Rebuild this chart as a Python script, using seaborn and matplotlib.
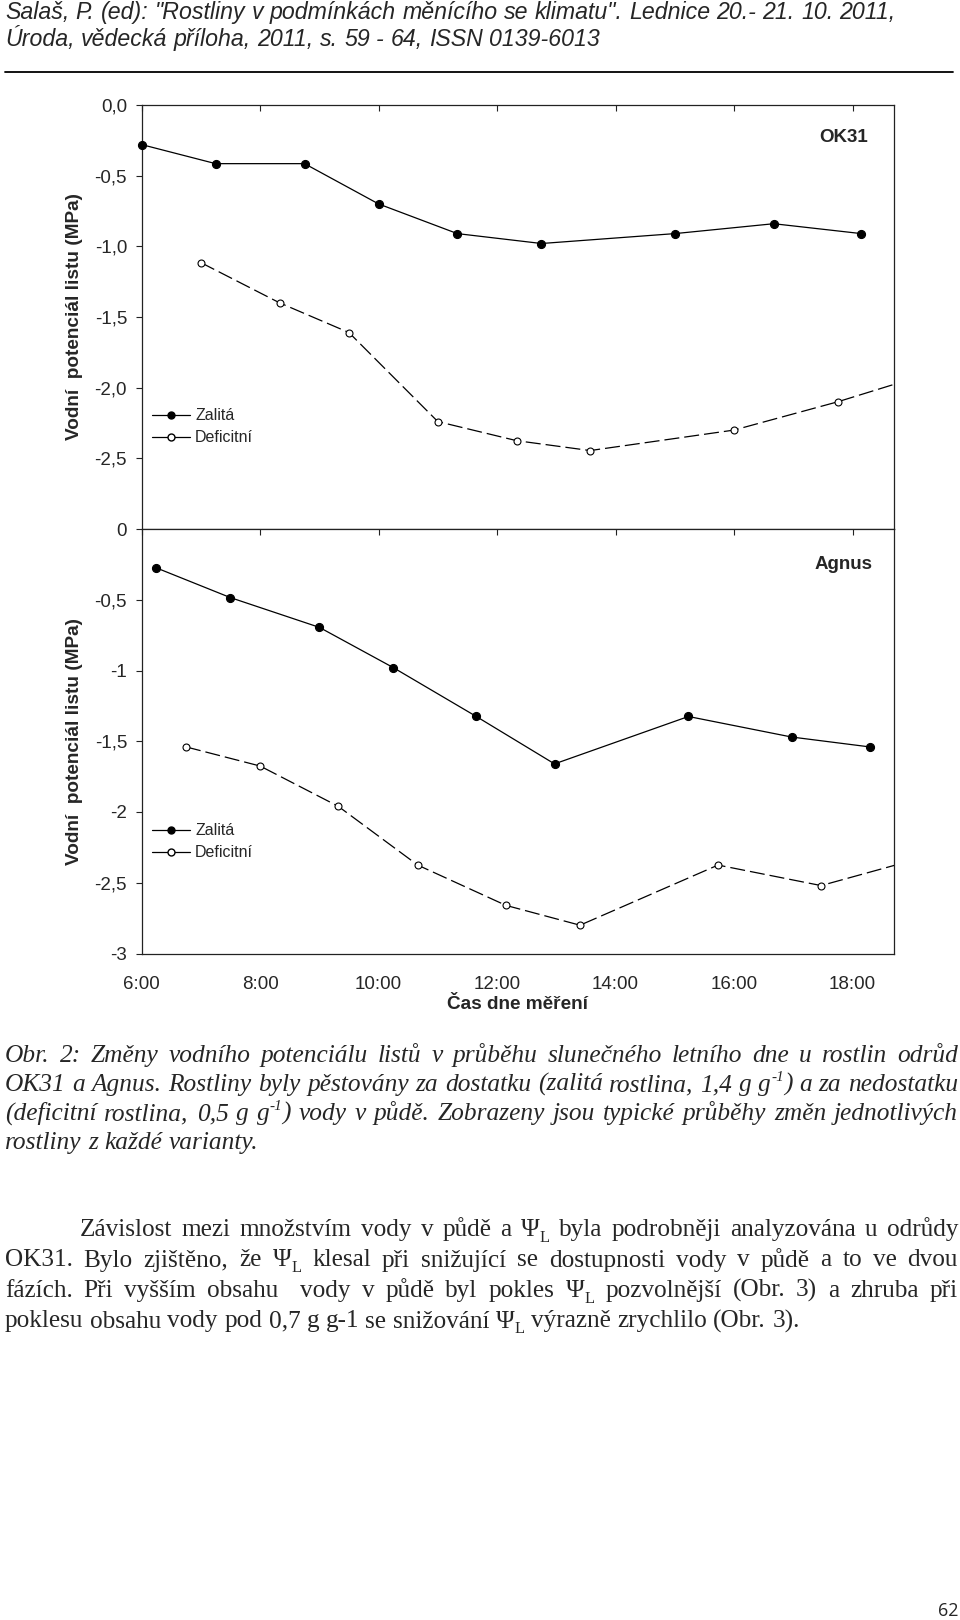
import re
import matplotlib
matplotlib.use('Agg')
import matplotlib.pyplot as plt
import seaborn as sns
from matplotlib.lines import Line2D

# --- data (hours of day, leaf water potential in MPa) ---
hours_ok31_zalita = [6.0, 7.25, 8.75, 10.0, 11.33, 12.75, 15.0, 16.67, 18.15]
psi_ok31_zalita = [-0.28, -0.415, -0.415, -0.70, -0.91, -0.98, -0.91, -0.84, -0.91]
hours_ok31_deficit = [7.0, 8.33, 9.5, 11.0, 12.33, 13.57, 16.0, 17.75, 19.1]
psi_ok31_deficit = [-1.115, -1.40, -1.61, -2.24, -2.375, -2.445, -2.30, -2.10, -1.925]

hours_agnus_zalita = [6.25, 7.5, 9.0, 10.25, 11.65, 12.97, 15.23, 16.97, 18.29]
psi_agnus_zalita = [-0.275, -0.485, -0.695, -0.98, -1.325, -1.66, -1.325, -1.47, -1.54]
hours_agnus_deficit = [6.75, 8.0, 9.32, 10.66, 12.15, 13.4, 15.73, 17.47, 19.2]
psi_agnus_deficit = [-1.54, -1.675, -1.96, -2.375, -2.66, -2.80, -2.375, -2.52, -2.32]

x_ticks = [6, 8, 10, 12, 14, 16, 18]
x_ticklabels = ['6:00', '8:00', '10:00', '12:00', '14:00', '16:00', '18:00']
y_ticks_top = [0, -0.5, -1.0, -1.5, -2.0, -2.5]
y_ticklabels_top = ['0,0', '-0,5', '-1,0', '-1,5', '-2,0', '-2,5']
y_ticks_bot = [0, -0.5, -1.0, -1.5, -2.0, -2.5, -3.0]
y_ticklabels_bot = ['0', '-0,5', '-1', '-1,5', '-2', '-2,5', '-3']
series_labels = ['Zalitá', 'Deficitní']
ylabel = 'Vodní  potenciál listu (MPa)'
xlabel = 'Čas dne měření'

header_lines = [
    'Salaš, P. (ed): "Rostliny v podmínkách měnícího se klimatu". Lednice 20.- 21. 10. 2011,',
    'Úroda, vědecká příloha, 2011, s. 59 - 64, ISSN 0139-6013',
]
caption_lines = [
    'Obr. 2: Změny vodního potenciálu listů v průběhu slunečného letního dne u rostlin odrůd',
    'OK31 a Agnus. Rostliny byly pěstovány za dostatku (zalitá rostlina, 1,4 g g^{-1}) a za nedostatku',
    '(deficitní rostlina, 0,5 g g^{-1}) vody v půdě. Zobrazeny jsou typické průběhy změn jednotlivých',
    'rostliny z každé varianty.',
]
body_lines = [
    'Závislost mezi množstvím vody v půdě a Ψ_{L} byla podrobněji analyzována u odrůdy',
    'OK31. Bylo zjištěno, že Ψ_{L} klesal při snižující se dostupnosti vody v půdě a to ve dvou',
    'fázích. Při vyšším obsahu  vody v půdě byl pokles Ψ_{L} pozvolnější (Obr. 3) a zhruba při',
    'poklesu obsahu vody pod 0,7 g g-1 se snižování Ψ_{L} výrazně zrychlilo (Obr. 3).',
]
page_number = '62'

sns.set_theme(style='ticks')
plt.rcParams['font.family'] = ['Liberation Sans', 'DejaVu Sans']

W, H = 960, 1620
fig = plt.figure(figsize=(W / 100, H / 100), dpi=100)
renderer = fig.canvas.get_renderer()


def fx(px):
    return px / W


def fy(py):
    return 1 - py / H


ax_top = fig.add_axes([fx(141.6), fy(529), fx(894) - fx(141.6), fy(105) - fy(529)])
ax_bot = fig.add_axes([fx(141.6), fy(953.5), fx(894) - fx(141.6), fy(529) - fy(953.5)])


def draw_panel(ax, hz, pz, hd, pdf, yt, ytl, name, name_y, leg_y, bottom):
    sns.lineplot(x=hz, y=pz, ax=ax, color='black', linewidth=0.9, marker='o',
                 markersize=5.8, markerfacecolor='black', markeredgecolor='black',
                 markeredgewidth=0.8, clip_on=False, zorder=3)
    sns.lineplot(x=hd, y=pdf, ax=ax, color='black', linewidth=0.9, linestyle=(0, (12, 4)),
                 marker='o', markersize=5, markerfacecolor='white', markeredgecolor='black',
                 markeredgewidth=0.8, zorder=3)
    ax.set_xlim(6, 18.7)
    ax.set_ylim(-3, 0)
    ax.set_xticks(x_ticks)
    ax.set_xticklabels(x_ticklabels if bottom else [''] * len(x_ticks))
    ax.set_yticks(yt)
    ax.set_yticklabels(ytl)
    ax.tick_params(axis='y', direction='out', length=4.5, width=0.8, pad=6,
                   labelsize=13.5, color='#222222')
    ax.tick_params(axis='x', bottom=False, top=True, direction='in', length=4.5,
                   width=0.8, pad=16, labelsize=13.5, labelbottom=bottom,
                   labeltop=False, color='#222222')
    for s in ax.spines.values():
        s.set_linewidth(0.9)
        s.set_color('#222222')
    ax.set_ylabel(ylabel, fontsize=13.7, fontweight='bold')
    ax.yaxis.label.set_va('center')
    ax.yaxis.set_label_coords(-0.0898, 0.5)
    if bottom:
        ax.set_xlabel(xlabel, fontsize=13.7, fontweight='bold')
        ax.xaxis.label.set_va('center')
        ax.xaxis.set_label_coords(0.5, -0.12)
    else:
        ax.set_xlabel('')
    ax.text(0.9335, name_y, name, transform=ax.transAxes, ha='center', va='center',
            fontsize=13.5, fontweight='bold')
    handles = [
        Line2D([], [], color='black', lw=0.9, marker='o', ms=5, mfc='black', mec='black'),
        Line2D([], [], color='black', lw=0.9, marker='o', ms=5, mfc='white', mec='black'),
    ]
    ax.legend(handles, series_labels, loc='upper left', bbox_to_anchor=(0.0138, leg_y),
              frameon=False, fontsize=11.5, handlelength=2.4, handletextpad=0.3,
              labelspacing=0.45, borderpad=0, borderaxespad=0)


draw_panel(ax_top, hours_ok31_zalita, psi_ok31_zalita, hours_ok31_deficit, psi_ok31_deficit,
           y_ticks_top, y_ticklabels_top, 'OK31', 0.9245, 0.285, False)
draw_panel(ax_bot, hours_agnus_zalita, psi_agnus_zalita, hours_agnus_deficit, psi_agnus_deficit,
           y_ticks_bot, y_ticklabels_bot, 'Agnus', 0.9175, 0.307, True)


# --- page text helpers (justified lines, super/subscripts) ---
def split_word(word):
    segs = []
    for part in re.split(r'(\^\{[^}]*\}|_\{[^}]*\})', word):
        if not part:
            continue
        if part.startswith('^{'):
            segs.append((part[2:-1], 0.6, 0.4))
        elif part.startswith('_{'):
            segs.append((part[2:-1], 0.65, -0.22))
        else:
            segs.append((part, 1.0, 0.0))
    return segs


def draw_word(word, x, y, size, props, draw=True):
    width = 0.0
    for s, scale, rise in split_word(word):
        dy = rise * size * 100 / 72
        t = fig.text(fx(x + width), fy(y - dy), s, fontsize=size * scale,
                     ha='left', va='baseline', **props)
        width += t.get_window_extent(renderer).width
        if not draw:
            t.remove()
    return width


def space_width(size, props):
    a = draw_word('x x', 0, 0, size, props, draw=False)
    b = draw_word('xx', 0, 0, size, props, draw=False)
    return a - b


def natural_width(line, size, props):
    words = line.split(' ')
    return sum(draw_word(w, 0, 0, size, props, draw=False) for w in words) + \
        space_width(size, props) * (len(words) - 1)


def draw_line(line, x0, x1, y, size, props, justify):
    words = line.split(' ')
    widths = [draw_word(w, 0, 0, size, props, draw=False) for w in words]
    if justify and len(words) > 1:
        gap = (x1 - x0 - sum(widths)) / (len(words) - 1)
    else:
        gap = space_width(size, props)
    x = x0
    for w, wd in zip(words, widths):
        if w:
            draw_word(w, x, y, size, props)
        x += wd + gap


# header
head_props = dict(family='Liberation Sans', style='italic')
head_size = 10 * 894 / natural_width(header_lines[0], 10, head_props)
draw_line(header_lines[0], 5, 899, 19, head_size, head_props, False)
draw_line(header_lines[1], 5, 899, 46, head_size, head_props, False)
fig.add_artist(Line2D([fx(5), fx(953)], [fy(72), fy(72)], transform=fig.transFigure,
                      color='black', lw=1.3))

# caption
cap_props = dict(family='Liberation Serif', style='italic')
cap_size = 10 * 253 / natural_width(caption_lines[-1], 10, cap_props)
for i, line in enumerate(caption_lines):
    draw_line(line, 5, 958, 1062 + 29 * i, cap_size, cap_props, i < len(caption_lines) - 1)

# body paragraph
body_props = dict(family='Liberation Serif', style='normal')
body_size = 10 * 794 / natural_width(body_lines[-1], 10, body_props)
for i, line in enumerate(body_lines):
    x0 = 80 if i == 0 else 5
    draw_line(line, x0, 958, 1236 + 30.5 * i, body_size, body_props, i < len(body_lines) - 1)

fig.text(fx(948), fy(1611), page_number, ha='center', va='center', fontsize=13,
         family='Open Sans')

fig.savefig('out.png', dpi=100)
